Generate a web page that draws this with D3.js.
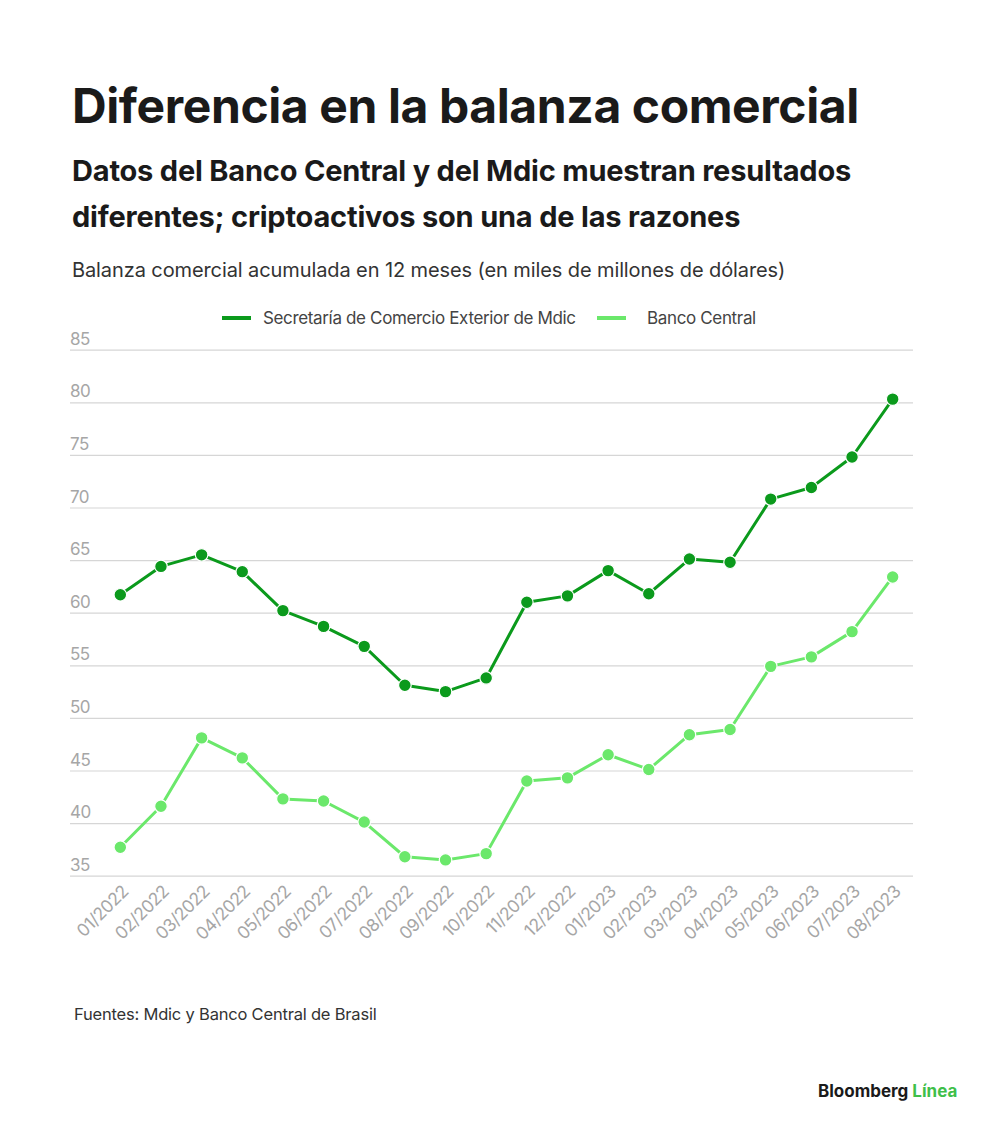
<!DOCTYPE html>
<html>
<head>
<meta charset="utf-8">
<script src="https://cdn.jsdelivr.net/npm/d3@7"></script>
<style>
  body { margin: 0; background: #fff; }
  svg { display: block; }
  text { font-family: Inter, "Noto Sans", sans-serif; }
</style>
</head>
<body>
<svg id="chart" width="1000" height="1134"></svg>
<script>
const months = ["01/2022","02/2022","03/2022","04/2022","05/2022","06/2022","07/2022","08/2022","09/2022","10/2022","11/2022","12/2022","01/2023","02/2023","03/2023","04/2023","05/2023","06/2023","07/2023","08/2023"];
const mdic = [61.7, 64.4, 65.5, 63.9, 60.2, 58.7, 56.8, 53.1, 52.5, 53.8, 61.0, 61.6, 64.0, 61.8, 65.1, 64.8, 70.8, 71.9, 74.8, 80.3];
const bancoCentral = [37.7, 41.6, 48.1, 46.2, 42.3, 42.1, 40.1, 36.8, 36.5, 37.1, 44.0, 44.3, 46.5, 45.1, 48.4, 48.9, 54.9, 55.8, 58.2, 63.4];
const yTicks = [35, 40, 45, 50, 55, 60, 65, 70, 75, 80, 85];
const seriesNames = ["Secretaría de Comercio Exterior de Mdic", "Banco Central"];
const seriesColors = ["#0b9a1c", "#6be86b"];

const svg = d3.select("#chart");
svg.append("rect").attr("width", 1000).attr("height", 1134).attr("fill", "#fff");

// Titles
svg.append("text").attr("x", 72).attr("y", 123)
  .attr("font-size", 48).attr("font-weight", 700).attr("fill", "#1a1a1a")
  .attr("letter-spacing", "-0.4px")
  .text("Diferencia en la balanza comercial");
const sub = ["Datos del Banco Central y del Mdic muestran resultados", "diferentes; criptoactivos son una de las razones"];
sub.forEach((s, i) => {
  svg.append("text").attr("x", 72).attr("y", 181 + i * 46)
    .attr("font-size", 29).attr("font-weight", 700).attr("fill", "#1a1a1a")
    .attr("letter-spacing", "-0.2px")
    .text(s);
});
svg.append("text").attr("x", 72).attr("y", 277)
  .attr("font-size", 20).attr("font-weight", 400).attr("fill", "#333")
  .attr("letter-spacing", "-0.1px")
  .text("Balanza comercial acumulada en 12 meses (en miles de millones de dólares)");

// Scales
const x = d3.scaleBand().domain(months).range([100, 913]).padding(0);
const y = d3.scaleLinear().domain([35, 85]).range([875.7, 349.7]);
const cx = d => x(d) + x.bandwidth() / 2;

// Gridlines
const gy = svg.append("g").attr("transform", "translate(913,0)");
gy.call(d3.axisRight(y).tickValues(yTicks).tickSize(-843).tickFormat(""));
gy.select(".domain").remove();
gy.selectAll(".tick line").attr("stroke", "#d6d6d6").attr("stroke-width", 1.2);

// y labels
svg.append("g").selectAll("text").data(yTicks).join("text")
  .attr("x", 70).attr("y", d => y(d) - 5)
  .attr("font-size", 17).attr("fill", "#a6a6a6")
  .attr("letter-spacing", "-0.5px")
  .text(d => d);

// X axis labels
const gx = svg.append("g").attr("transform", "translate(0,875.7)")
  .call(d3.axisBottom(x).tickSize(0).tickPadding(0));
gx.select(".domain").remove();
gx.selectAll(".tick text")
  .attr("font-size", 17.5).attr("fill", "#a6a6a6")
  .attr("font-family", "Inter, 'Noto Sans', sans-serif")
  .attr("letter-spacing", "-0.5px")
  .attr("text-anchor", "end")
  .attr("dy", 0)
  .attr("transform", "translate(9,17) rotate(-45)");

// Lines
const data = [mdic, bancoCentral];
const line = d3.line().x((d, i) => cx(months[i])).y(d => y(d));
[1, 0].forEach(k => {
  const g = svg.append("g");
  g.append("path").datum(data[k]).attr("d", line)
    .attr("fill", "none").attr("stroke", seriesColors[k]).attr("stroke-width", 3)
    .attr("stroke-linejoin", "round");
  g.selectAll("circle").data(data[k]).join("circle")
    .attr("cx", (d, i) => cx(months[i])).attr("cy", d => y(d))
    .attr("r", 6.3).attr("fill", seriesColors[k])
    .attr("stroke", "#fff").attr("stroke-width", 1.2);
});

// Legend
const legend = svg.append("g");
const legItems = [
  { x1: 222, tx: 263 },
  { x1: 597, tx: 647 }
];
seriesNames.forEach((n, i) => {
  legend.append("line").attr("x1", legItems[i].x1).attr("x2", legItems[i].x1 + 29)
    .attr("y1", 318).attr("y2", 318)
    .attr("stroke", seriesColors[i]).attr("stroke-width", 4);
  legend.append("text").attr("x", legItems[i].tx).attr("y", 324)
    .attr("font-size", 17).attr("fill", "#444").attr("letter-spacing", "-0.35px")
    .text(n);
});

// Footer
svg.append("text").attr("x", 74).attr("y", 1020)
  .attr("font-size", 16.5).attr("fill", "#333").attr("letter-spacing", "-0.2px")
  .text("Fuentes: Mdic y Banco Central de Brasil");

const logo = svg.append("text").attr("x", 818).attr("y", 1097)
  .attr("font-size", 17).attr("font-weight", 700).attr("fill", "#1a1a1a")
  .attr("font-family", "Lato, Inter, sans-serif");
logo.append("tspan").text("Bloomberg ");
logo.append("tspan").attr("fill", "#3fbf4a").text("Línea");
</script>
</body>
</html>
